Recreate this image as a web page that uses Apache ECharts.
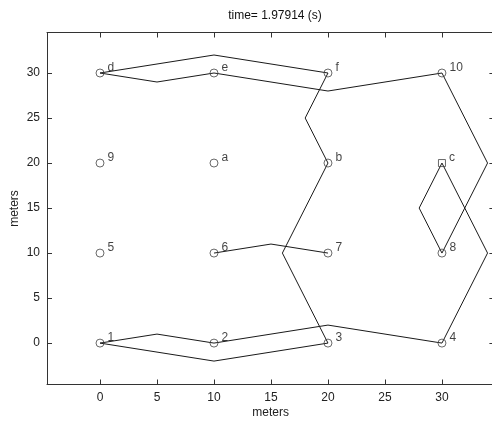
<!DOCTYPE html>
<html>
<head>
<meta charset="utf-8">
<script src="https://cdn.jsdelivr.net/npm/echarts@6/dist/echarts.min.js"></script>
<style>html,body{margin:0;padding:0;background:#fff;}#c{width:492px;height:421px;}</style>
</head>
<body>
<div id="c"></div>
<script>
// Node positions and labels
const nodeLabels = ['1','2','3','4','5','6','7','8','9','a','b','c','d','e','f','10'];
const nodeX = [0,10,20,30, 0,10,20,30, 0,10,20,30, 0,10,20,30];
const nodeY = [0,0,0,0, 10,10,10,10, 20,20,20,20, 30,30,30,30];
const squareNode = 'c';

// Link paths (x, y in meters)
const pathD_F = [[0,30],[10,32],[20,30]];
const pathD_E_10 = [[0,30],[5,29],[10,30],[20,28],[30,30]];
const pathF_B_3 = [[20,30],[18,25],[20,20],[16,10],[20,0]];
const path6_7 = [[10,10],[15,11],[20,10]];
const path1_2_4 = [[0,0],[5,1],[10,0],[20,2],[30,0]];
const path1_3 = [[0,0],[10,-2],[20,0]];
const path10_8 = [[30,30],[34,20],[30,10]];
const pathC_4 = [[30,20],[34,10],[30,0]];
const pathC_8 = [[30,20],[28,15],[30,10]];
const paths = [pathD_F, pathD_E_10, pathF_B_3, path6_7, path1_2_4, path1_3, path10_8, pathC_4, pathC_8];

const tickVals = [0,5,10,15,20,25,30];
const titleText = 'time= 1.97914 (s)';

const font = 'Liberation Sans, Arial, Helvetica, sans-serif';
const axisCol = '#333';
const chart = echarts.init(document.getElementById('c'));

function mkAxis(pos, min, max, showLabel, name, extra) {
  return Object.assign({
    type: 'value', position: pos, min: min, max: max,
    axisLine: {show: true, onZero: false, lineStyle: {color: axisCol, width: 1}},
    axisTick: {show: true, inside: true, length: 5, customValues: tickVals, lineStyle: {color: axisCol}},
    axisLabel: {show: showLabel, customValues: tickVals, color: '#222', fontSize: 12, fontFamily: font, margin: 7},
    splitLine: {show: false},
    name: name || '', nameLocation: 'middle', nameMoveOverlap: false,
    nameTextStyle: {color: '#222', fontSize: 12, fontFamily: font}
  }, extra || {});
}

const series = paths.map(p => ({
  type: 'line', data: p, symbol: 'none', silent: true, animation: false,
  lineStyle: {color: '#1a1a1a', width: 1}, z: 2
}));

series.push({
  type: 'scatter', animation: false, z: 3,
  data: nodeX.map((x, i) => ({
    value: [x, nodeY[i]], name: nodeLabels[i],
    symbol: nodeLabels[i] === squareNode ? 'rect' : 'circle',
    symbolSize: nodeLabels[i] === squareNode ? 7 : 8
  })),
  itemStyle: {color: 'rgba(0,0,0,0)', borderColor: '#444', borderWidth: 1},
  label: {show: true, position: 'right', distance: 3, offset: [0, -5],
    formatter: p => p.name, color: '#111', fontSize: 12, fontFamily: font}
});

chart.setOption({
  animation: false,
  backgroundColor: '#fff',
  title: {text: titleText, left: 270, top: 5, textAlign: 'center',
    textStyle: {fontSize: 12, fontWeight: 'normal', color: '#111', fontFamily: font}},
  grid: {left: 47, top: 32.5, right: -2.4, bottom: 36.5, containLabel: false, outerBoundsMode: 'none'},
  xAxis: [
    mkAxis('bottom', -4.65, 34.6, true, 'meters', {nameGap: 22}),
    mkAxis('top', -4.65, 34.6, false)
  ],
  yAxis: [
    mkAxis('left', -4.6, 34.5, true, 'meters', {nameGap: 26}),
    mkAxis('right', -4.6, 34.5, false)
  ],
  series: series
});
</script>
</body>
</html>
